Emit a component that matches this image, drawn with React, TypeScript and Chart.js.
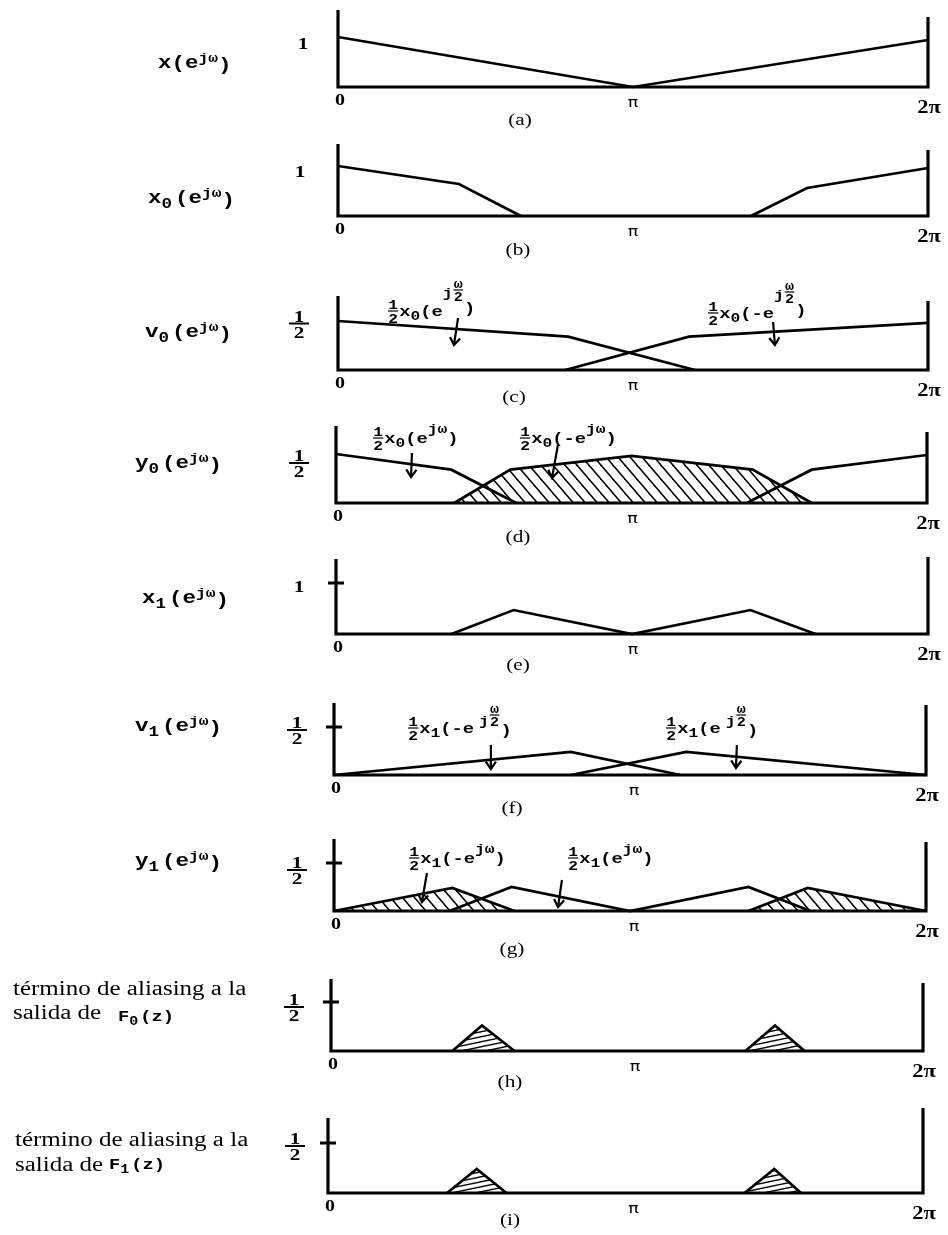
import React, { useEffect, useRef } from 'react';
import { Chart, registerables } from 'chart.js';
Chart.register(...registerables);

// ---------- data (x in units of π) ----------
const aX = [0, 1, 2];
const aY = [1.0, 0, 0.94];

const bX1 = [0, 0.41, 0.62];
const bY1 = [1.0, 0.64, 0];
const bX2 = [1.4, 1.59, 2];
const bY2 = [0, 0.56, 0.96];

const cX1 = [0, 0.78, 1.21];
const cY1 = [0.5, 0.34, 0];
const cX2 = [0.77, 1.19, 2];
const cY2 = [0, 0.34, 0.48];

const dX1 = [0, 0.39, 0.61];
const dY1 = [0.5, 0.34, 0];
const dX2 = [0.4, 0.59, 1.0, 1.41, 1.61];
const dY2 = [0, 0.34, 0.48, 0.34, 0];
const dX3 = [1.39, 1.61, 2];
const dY3 = [0, 0.34, 0.49];

const eX = [0.39, 0.6, 1.0, 1.4, 1.62];
const eY = [0, 0.47, 0, 0.47, 0];

const fX1 = [0, 0.8, 1.17];
const fY1 = [0, 0.24, 0];
const fX2 = [0.8, 1.19, 2];
const fY2 = [0, 0.24, 0];

const gX1 = [0, 0.4, 0.61];
const gY1 = [0, 0.24, 0];
const gX2 = [0.39, 0.6, 1.0, 1.4, 1.61];
const gY2 = [0, 0.25, 0, 0.25, 0];
const gX3 = [1.4, 1.6, 2];
const gY3 = [0, 0.24, 0];

const hX1 = [0.41, 0.51, 0.62];
const hY1 = [0, 0.26, 0];
const hX2 = [1.4, 1.5, 1.6];
const hY2 = [0, 0.26, 0];

const iX1 = [0.4, 0.5, 0.6];
const iY1 = [0, 0.24, 0];
const iX2 = [1.4, 1.5, 1.59];
const iY2 = [0, 0.24, 0];

const X_TICKS = [0, 1, 2];
const X_TICK_TEXT = ['0', 'π', '2π'];
const CAPTIONS = ['(a)', '(b)', '(c)', '(d)', '(e)', '(f)', '(g)', '(h)', '(i)'];
const ALIAS_LINE1 = 'término de aliasing a la';
const ALIAS_LINE2 = 'salida de';

// ---------- text helpers ----------
const W = 948;
const H = 1235;
const SX = 1.25;
const MONO = '"Liberation Mono", "DejaVu Sans Mono", monospace';
const SERIF = '"Liberation Serif", "DejaVu Serif", serif';
const SANS = '"DejaVu Sans", sans-serif';

type Seg = { t?: string; frac?: [string, string]; size: number; dy?: number; fam?: string; bold?: boolean; gap?: number; bar?: number };

function segFont(s: Seg) {
  return `${s.bold === false ? '' : 'bold '}${s.size}px ${s.fam || MONO}`;
}

function segWidth(ctx: CanvasRenderingContext2D, s: Seg) {
  ctx.font = segFont(s);
  if (s.frac) {
    const w = Math.max(ctx.measureText(s.frac[0]).width, ctx.measureText(s.frac[1]).width);
    return (w + (s.bar ?? 2)) * SX;
  }
  return ctx.measureText(s.t || '').width * SX;
}

function stretchText(ctx: CanvasRenderingContext2D, t: string, x: number, y: number, align: CanvasTextAlign = 'left') {
  ctx.save();
  ctx.translate(x, y);
  ctx.scale(SX, 1);
  ctx.textAlign = align;
  ctx.textBaseline = 'alphabetic';
  ctx.fillText(t, 0, 0);
  ctx.restore();
}

function drawRich(ctx: CanvasRenderingContext2D, segs: Seg[], x: number, y: number, align: 'left' | 'center' = 'left') {
  const ws = segs.map((s) => segWidth(ctx, s));
  const total = ws.reduce((a, w, i) => a + w + (segs[i].gap || 0), 0);
  let cx = align === 'center' ? x - total / 2 : x;
  segs.forEach((s, i) => {
    cx += s.gap || 0;
    const w = ws[i];
    ctx.font = segFont(s);
    const yy = y + (s.dy || 0);
    if (s.frac) {
      const ch = s.size * 0.7;
      const m = cx + w / 2;
      stretchText(ctx, s.frac[0], m, yy - 2, 'center');
      stretchText(ctx, s.frac[1], m, yy + 2.5 + ch, 'center');
      const lw = s.size >= 16 ? 2 : 1.2;
      ctx.fillRect(cx + 1, yy - lw / 2, w - 2, lw);
    } else {
      stretchText(ctx, s.t || '', cx, yy);
    }
    cx += w;
  });
}

function fnLabel(letter: string, sub: string): Seg[] {
  const s: Seg[] = [{ t: letter, size: 18 }];
  if (sub) s.push({ t: sub, size: 14, dy: 5 });
  s.push({ t: '(e', size: 18, gap: sub ? 3 : 0 });
  s.push({ t: 'jω', size: 13, dy: -6 });
  s.push({ t: ')', size: 18, dy: 2 });
  return s;
}

function annSegs(sub: string, neg: boolean, half: boolean, jdy: number, fdy: number, pdy: number, gap = 0): Seg[] {
  const s: Seg[] = [
    { frac: ['1', '2'], size: 13, dy: -5 },
    { t: 'x', size: 15 },
    { t: sub, size: 13, dy: 4 },
    { t: neg ? '(-e' : '(e', size: 15 },
  ];
  if (half) {
    s.push({ t: 'j', size: 13, dy: jdy, gap });
    s.push({ frac: ['ω', '2'], size: 12, dy: fdy });
    s.push({ t: ')', size: 15, dy: pdy });
  } else {
    s.push({ t: 'jω', size: 13, dy: jdy });
    s.push({ t: ')', size: 15, dy: pdy });
  }
  return s;
}

const ONE: Seg[] = [{ t: '1', size: 17, fam: SERIF }];
const HALF: Seg[] = [{ frac: ['1', '2'], size: 17, fam: SERIF, bar: 9 }];

// ---------- panel definitions ----------
type Series = { x: number[]; y: number[]; hatch?: 'diag' | 'flat' };
type Ann = { x: number; y: number; segs: Seg[] };
type Arrow = [number, number, number, number];
type Panel = {
  top: number; bottom: number; L: number; R: number; B: number; ppu: number;
  leftTop: number; rightTop: number; tick: number; tickMark: boolean;
  tickLabel: Seg[]; tickPos: [number, number]; piDx: number;
  labels: { x: number; y: number; segs: Seg[] }[];
  capPos: [number, number];
  series: Series[]; anns: Ann[]; arrows: Arrow[];
};

const PANELS: Panel[] = [
  {
    top: 0, bottom: 135, L: 338, R: 928, B: 87, ppu: 50, leftTop: 1.54, rightTop: 1.4, tick: 1, tickMark: false,
    tickLabel: ONE, tickPos: [303, 48.5], piDx: 0,
    labels: [{ x: 158, y: 68, segs: fnLabel('x', '') }], capPos: [520, 125],
    series: [{ x: aX, y: aY }], anns: [], arrows: [],
  },
  {
    top: 135, bottom: 268, L: 338, R: 928, B: 216, ppu: 50, leftTop: 1.44, rightTop: 1.32, tick: 1, tickMark: false,
    tickLabel: ONE, tickPos: [300, 177], piDx: 0,
    labels: [{ x: 148, y: 203, segs: fnLabel('x', '0') }], capPos: [518, 255],
    series: [{ x: bX1, y: bY1 }, { x: bX2, y: bY2 }], anns: [], arrows: [],
  },
  {
    top: 268, bottom: 408, L: 338, R: 928, B: 370, ppu: 98, leftTop: 0.755, rightTop: 0.704, tick: 0.5, tickMark: false,
    tickLabel: HALF, tickPos: [299, 323.5], piDx: 0,
    labels: [{ x: 145, y: 337, segs: fnLabel('v', '0') }], capPos: [514, 402],
    series: [{ x: cX1, y: cY1 }, { x: cX2, y: cY2 }],
    anns: [
      { x: 0.166, y: 0.551, segs: annSegs('0', false, true, -19, -26, -3) },
      { x: 1.251, y: 0.531, segs: annSegs('0', true, true, -19, -26, -3) },
    ],
    arrows: [[0.407, 0.531, 0.393, 0.255], [1.475, 0.49, 1.481, 0.255]],
  },
  {
    top: 408, bottom: 548, L: 336, R: 927, B: 503, ppu: 98, leftTop: 0.786, rightTop: 0.724, tick: 0.5, tickMark: false,
    tickLabel: HALF, tickPos: [299, 463], piDx: 1,
    labels: [{ x: 135, y: 468, segs: fnLabel('y', '0') }], capPos: [518, 542],
    series: [{ x: dX1, y: dY1 }, { x: dX2, y: dY2, hatch: 'diag' }, { x: dX3, y: dY3 }],
    anns: [
      { x: 0.122, y: 0.612, segs: annSegs('0', false, false, -10, 0, 0) },
      { x: 0.619, y: 0.612, segs: annSegs('0', true, false, -10, 0, 0) },
    ],
    arrows: [[0.257, 0.51, 0.254, 0.265], [0.751, 0.592, 0.731, 0.255]],
  },
  {
    top: 548, bottom: 678, L: 336, R: 928, B: 634, ppu: 51, leftTop: 1.47, rightTop: 1.51, tick: 1, tickMark: true,
    tickLabel: ONE, tickPos: [299, 592], piDx: 1,
    labels: [{ x: 142, y: 603, segs: fnLabel('x', '1') }], capPos: [518, 670],
    series: [{ x: eX, y: eY }], anns: [], arrows: [],
  },
  {
    top: 678, bottom: 820, L: 334, R: 926, B: 775, ppu: 96, leftTop: 0.75, rightTop: 0.73, tick: 0.5, tickMark: true,
    tickLabel: HALF, tickPos: [297, 730], piDx: 4,
    labels: [{ x: 135, y: 731, segs: fnLabel('v', '1') }], capPos: [512, 813],
    series: [{ x: fX1, y: fY1 }, { x: fX2, y: fY2 }],
    anns: [
      { x: 0.247, y: 0.4375, segs: annSegs('1', true, true, -8, -18, 2, 5) },
      { x: 1.118, y: 0.4375, segs: annSegs('1', false, true, -8, -18, 2, 5) },
    ],
    arrows: [[0.53, 0.3125, 0.53, 0.0625], [1.361, 0.3125, 1.358, 0.073]],
  },
  {
    top: 820, bottom: 962, L: 334, R: 926, B: 911, ppu: 96, leftTop: 0.75, rightTop: 0.72, tick: 0.5, tickMark: true,
    tickLabel: HALF, tickPos: [297, 870], piDx: 4,
    labels: [{ x: 135, y: 866, segs: fnLabel('y', '1') }], capPos: [512, 954],
    series: [{ x: gX1, y: gY1, hatch: 'diag' }, { x: gX2, y: gY2 }, { x: gX3, y: gY3, hatch: 'diag' }],
    anns: [
      { x: 0.25, y: 0.5, segs: annSegs('1', true, false, -10, 0, 0) },
      { x: 0.787, y: 0.5, segs: annSegs('1', false, false, -10, 0, 0) },
    ],
    arrows: [[0.314, 0.396, 0.297, 0.094], [0.77, 0.323, 0.757, 0.042]],
  },
  {
    top: 962, bottom: 1097, L: 331, R: 923, B: 1051, ppu: 98, leftTop: 0.735, rightTop: 0.694, tick: 0.5, tickMark: true,
    tickLabel: HALF, tickPos: [294, 1007], piDx: 8,
    labels: [
      { x: 13, y: 995, segs: [{ t: ALIAS_LINE1, size: 20, fam: SERIF, bold: false }] },
      { x: 13, y: 1019, segs: [{ t: ALIAS_LINE2, size: 20, fam: SERIF, bold: false }] },
      { x: 118, y: 1021, segs: [{ t: 'F', size: 15 }, { t: '0', size: 12, dy: 4 }, { t: '(z)', size: 15, gap: 2 }] },
    ],
    capPos: [510, 1087],
    series: [{ x: hX1, y: hY1, hatch: 'flat' }, { x: hX2, y: hY2, hatch: 'flat' }], anns: [], arrows: [],
  },
  {
    top: 1097, bottom: 1235, L: 328, R: 923, B: 1193, ppu: 100, leftTop: 0.75, rightTop: 0.85, tick: 0.5, tickMark: true,
    tickLabel: HALF, tickPos: [295, 1146], piDx: 8,
    labels: [
      { x: 15, y: 1146, segs: [{ t: ALIAS_LINE1, size: 20, fam: SERIF, bold: false }] },
      { x: 15, y: 1171, segs: [{ t: ALIAS_LINE2, size: 20, fam: SERIF, bold: false }] },
      { x: 109, y: 1169, segs: [{ t: 'F', size: 15 }, { t: '1', size: 12, dy: 4 }, { t: '(z)', size: 15, gap: 2 }] },
    ],
    capPos: [510, 1225],
    series: [{ x: iX1, y: iY1, hatch: 'flat' }, { x: iX2, y: iY2, hatch: 'flat' }], anns: [], arrows: [],
  },
];

// ---------- patterns ----------
function makeDiag(ctx: CanvasRenderingContext2D) {
  const w = 12, h = 14;
  const c = document.createElement('canvas');
  c.width = w; c.height = h;
  const g = c.getContext('2d')!;
  g.strokeStyle = '#000';
  g.lineWidth = 1.5;
  for (const k of [-1, 0, 1]) {
    g.beginPath();
    g.moveTo(k * w - w, -h);
    g.lineTo(k * w + 2 * w, 2 * h);
    g.stroke();
  }
  return ctx.createPattern(c, 'repeat')!;
}

function makeFlat(ctx: CanvasRenderingContext2D) {
  const w = 24, h = 5;
  const c = document.createElement('canvas');
  c.width = w; c.height = h;
  const g = c.getContext('2d')!;
  g.strokeStyle = '#000';
  g.lineWidth = 1.3;
  for (const k of [-1, 0, 1]) {
    g.beginPath();
    g.moveTo(-w, 2 * h + k * h);
    g.lineTo(2 * w, -h + k * h);
    g.stroke();
  }
  return ctx.createPattern(c, 'repeat')!;
}

// ---------- decoration plugin ----------
function figurePlugin(p: Panel, idx: number) {
  return {
    id: 'figure' + idx,
    afterDatasetsDraw(chart: any) {
      const ctx: CanvasRenderingContext2D = chart.ctx;
      const xs = chart.scales.x;
      const ys = chart.scales.y;
      const px = (v: number) => xs.getPixelForValue(v);
      const py = (v: number) => ys.getPixelForValue(v);
      const oy = p.top;
      const L = px(0), R = px(2), B = py(0);
      ctx.save();
      ctx.strokeStyle = '#000';
      ctx.fillStyle = '#000';
      ctx.lineCap = 'butt';
      // axes
      ctx.lineWidth = 3.2;
      ctx.beginPath();
      ctx.moveTo(L, B + 1.6); ctx.lineTo(L, py(p.leftTop));
      ctx.moveTo(L - 1.6, B); ctx.lineTo(R + 1.6, B);
      ctx.moveTo(R, B + 1.6); ctx.lineTo(R, py(p.rightTop));
      if (p.tickMark) {
        ctx.moveTo(L - 8, py(p.tick)); ctx.lineTo(L + 8, py(p.tick));
      }
      ctx.stroke();
      // y tick label
      drawRich(ctx, p.tickLabel, p.tickPos[0], p.tickPos[1] - oy, 'center');
      // x tick labels
      X_TICKS.forEach((v, i) => {
        const t = X_TICK_TEXT[i];
        if (i === 0) {
          ctx.font = `bold 16px ${SERIF}`;
          stretchText(ctx, t, px(v) + 2, B + 18, 'center');
        } else if (i === 1) {
          ctx.font = `14px ${SANS}`;
          stretchText(ctx, t, px(v) + p.piDx, B + 19.5, 'center');
        } else {
          ctx.font = `bold 18px ${SERIF}`;
          stretchText(ctx, t, px(v) + 1, B + 25.5, 'center');
        }
      });
      // caption
      ctx.font = `17px ${SERIF}`;
      stretchText(ctx, CAPTIONS[idx], p.capPos[0], p.capPos[1] - oy, 'center');
      // function labels
      p.labels.forEach((l) => drawRich(ctx, l.segs, l.x, l.y - oy));
      // annotations
      p.anns.forEach((a) => drawRich(ctx, a.segs, px(a.x), py(a.y)));
      // arrows
      ctx.lineWidth = 2.2;
      p.arrows.forEach(([x1, y1, x2, y2]) => {
        const ax = px(x1), ay = py(y1), bx = px(x2), by = py(y2);
        const ang = Math.atan2(by - ay, bx - ax);
        const hl = 9, sp = 0.6;
        ctx.beginPath();
        ctx.moveTo(ax, ay); ctx.lineTo(bx, by);
        ctx.moveTo(bx - hl * Math.cos(ang - sp), by - hl * Math.sin(ang - sp));
        ctx.lineTo(bx, by);
        ctx.lineTo(bx - hl * Math.cos(ang + sp), by - hl * Math.sin(ang + sp));
        ctx.stroke();
      });
      ctx.restore();
    },
  };
}

function PanelChart({ p, idx }: { p: Panel; idx: number }) {
  const ref = useRef<HTMLCanvasElement>(null);
  const hgt = p.bottom - p.top;
  useEffect(() => {
    const canvas = ref.current!;
    const ctx = canvas.getContext('2d')!;
    const diag = makeDiag(ctx);
    const flat = makeFlat(ctx);
    const yMax = Math.max(p.leftTop, p.rightTop);
    const chart = new Chart(canvas, {
      type: 'line',
      data: {
        datasets: p.series.map((s) => ({
          data: s.x.map((x, i) => ({ x, y: s.y[i] })),
          borderColor: '#000',
          borderWidth: 2.7,
          pointRadius: 0,
          tension: 0,
          fill: s.hatch ? 'origin' : false,
          backgroundColor: s.hatch === 'diag' ? diag : s.hatch === 'flat' ? flat : 'rgba(0,0,0,0)',
          clip: false,
        })),
      },
      options: {
        responsive: false,
        animation: false,
        devicePixelRatio: 1,
        events: [],
        layout: {
          padding: { left: p.L, right: W - p.R, top: p.B - yMax * p.ppu - p.top, bottom: p.bottom - p.B },
        },
        scales: {
          x: { type: 'linear', min: 0, max: 2, display: false },
          y: { type: 'linear', min: 0, max: yMax, display: false },
        },
        plugins: { legend: { display: false }, tooltip: { enabled: false } },
      },
      plugins: [figurePlugin(p, idx)],
    } as any);
    return () => chart.destroy();
  }, []);
  return (
    <canvas
      ref={ref}
      width={W}
      height={hgt}
      style={{ position: 'absolute', left: 0, top: p.top, width: W, height: hgt, display: 'block' }}
    />
  );
}

export default function App() {
  return (
    <div style={{ position: 'absolute', left: 0, top: 0, width: W, height: H, background: '#fff', overflow: 'hidden' }}>
      {PANELS.map((p, i) => (
        <PanelChart key={i} p={p} idx={i} />
      ))}
    </div>
  );
}
